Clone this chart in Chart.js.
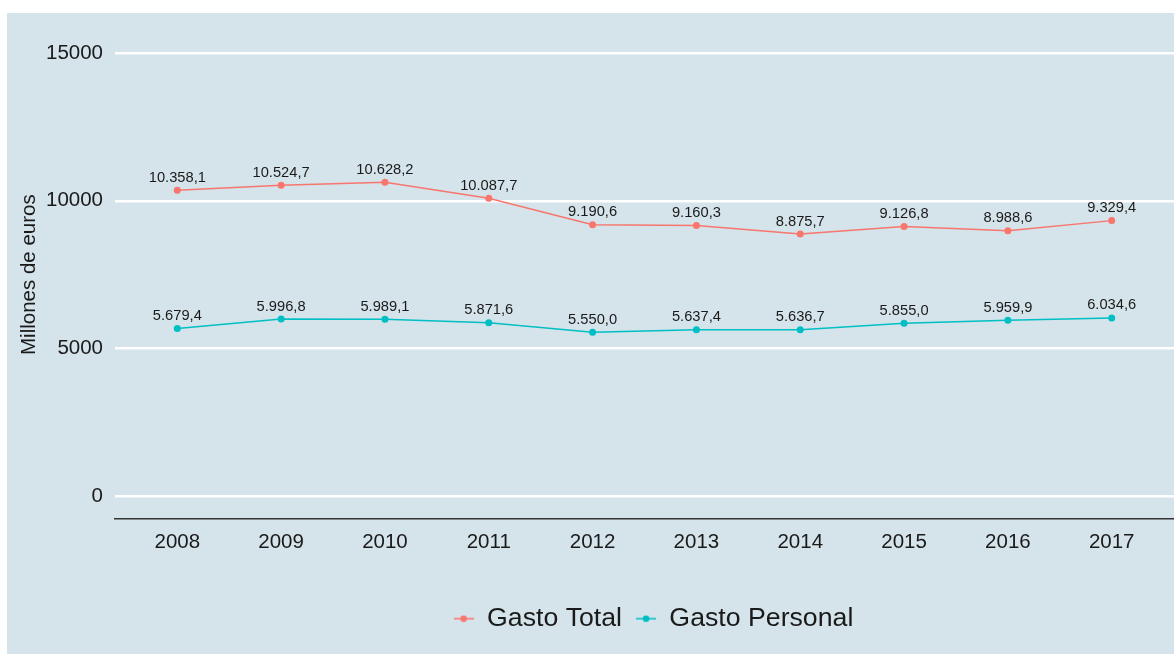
<!DOCTYPE html>
<html>
<head>
<meta charset="utf-8">
<script src="https://cdn.jsdelivr.net/npm/chart.js@4"></script>
<style>
  html, body { margin: 0; padding: 0; background: #ffffff; }
  #wrap { width: 1174px; height: 654px; position: relative; }
  canvas { display: block; }
</style>
</head>
<body>
<div id="wrap"><canvas id="c" width="1174" height="654"></canvas></div>
<script>
const years = [2008, 2009, 2010, 2011, 2012, 2013, 2014, 2015, 2016, 2017];
const gastoTotal = [10358.1, 10524.7, 10628.2, 10087.7, 9190.6, 9160.3, 8875.7, 9126.8, 8988.6, 9329.4];
const gastoPersonal = [5679.4, 5996.8, 5989.1, 5871.6, 5550.0, 5637.4, 5636.7, 5855.0, 5959.9, 6034.6];
const yTicks = [0, 5000, 10000, 15000];
const seriesNames = ['Gasto Total', 'Gasto Personal'];
const yTitle = 'Millones de euros';

const FONT = '"Liberation Sans", Arial, Helvetica, sans-serif';
const RED = '#F8766D';
const TEAL = '#00BFC4';
const PANEL = '#d5e3ea';

function fmtEs(v) {
  const parts = v.toFixed(1).split('.');
  const intPart = parts[0].replace(/\B(?=(\d{3})+(?!\d))/g, '.');
  return intPart + ',' + parts[1];
}

function legendMarker(color) {
  const c = document.createElement('canvas');
  c.width = 20; c.height = 8;
  const g = c.getContext('2d');
  g.strokeStyle = color; g.lineWidth = 1.5;
  g.beginPath(); g.moveTo(0, 4); g.lineTo(20, 4); g.stroke();
  g.fillStyle = color;
  g.beginPath(); g.arc(10, 4, 3.3, 0, Math.PI * 2); g.fill();
  return c;
}

const panelBg = {
  id: 'panelBg',
  beforeDraw(chart) {
    const ctx = chart.ctx;
    ctx.save();
    ctx.fillStyle = '#ffffff';
    ctx.fillRect(0, 0, chart.width, chart.height);
    ctx.fillStyle = PANEL;
    ctx.fillRect(7, 13, chart.width - 7, chart.height - 13);
    ctx.restore();
  }
};

const dataLabels = {
  id: 'dataLabels',
  afterDatasetsDraw(chart) {
    const ctx = chart.ctx;
    ctx.save();
    ctx.font = '14.7px ' + FONT;
    ctx.fillStyle = '#1a1a1a';
    ctx.textAlign = 'center';
    ctx.textBaseline = 'middle';
    chart.data.datasets.forEach((ds, i) => {
      const meta = chart.getDatasetMeta(i);
      meta.data.forEach((el, j) => {
        ctx.fillText(fmtEs(ds.data[j].y), el.x, el.y - 12.5);
      });
    });
    ctx.restore();
  }
};

const legendShift = {
  id: 'legendShift',
  afterLayout(chart) {
    const lg = chart.legend;
    if (lg) { lg.left = 133; lg.right = 1174; }
  }
};

const toPoints = arr => years.map((yr, i) => ({ x: yr, y: arr[i] }));

new Chart(document.getElementById('c'), {
  type: 'line',
  data: {
    datasets: [
      {
        label: seriesNames[0],
        data: toPoints(gastoTotal),
        borderColor: RED, backgroundColor: RED,
        borderWidth: 1.5, pointRadius: 3.5, pointBorderWidth: 0,
        pointBackgroundColor: RED, tension: 0
      },
      {
        label: seriesNames[1],
        data: toPoints(gastoPersonal),
        borderColor: TEAL, backgroundColor: TEAL,
        borderWidth: 1.5, pointRadius: 3.5, pointBorderWidth: 0,
        pointBackgroundColor: TEAL, tension: 0
      }
    ]
  },
  options: {
    responsive: false,
    animation: false,
    devicePixelRatio: 1,
    layout: { autoPadding: false, padding: { top: 31, right: 0, bottom: 12, left: 0 } },
    scales: {
      x: {
        type: 'linear',
        min: years[0] - 0.6,
        max: years[years.length - 1] + 0.6,
        afterBuildTicks(scale) { scale.ticks = years.map(v => ({ value: v })); },
        afterFit(scale) { scale.height = 73; },
        grid: { display: false, drawTicks: false },
        border: { display: true, color: '#333333', width: 1.5 },
        ticks: {
          padding: 12,
          color: '#1a1a1a',
          font: { family: FONT, size: 20.5 },
          callback: v => String(v),
          maxRotation: 0, autoSkip: false
        }
      },
      y: {
        min: -750,
        max: 15750,
        afterBuildTicks(scale) { scale.ticks = yTicks.map(v => ({ value: v })); },
        afterFit(scale) { scale.width = 115; },
        grid: { color: '#ffffff', lineWidth: 2.5, drawTicks: false },
        border: { display: false },
        ticks: {
          padding: 12,
          color: '#1a1a1a',
          font: { family: FONT, size: 20.5 },
          callback: v => String(v)
        },
        title: {
          display: true,
          text: yTitle,
          color: '#1a1a1a',
          font: { family: FONT, size: 20.5 },
          padding: { top: 17.5, bottom: 0 }
        }
      }
    },
    plugins: {
      tooltip: { enabled: false },
      legend: {
        position: 'bottom',
        labels: {
          usePointStyle: true,
          pointStyleWidth: 20,
          padding: 14,
          color: '#1a1a1a',
          font: { family: FONT, size: 26.7 },
          generateLabels(chart) {
            return chart.data.datasets.map((ds, i) => ({
              text: ds.label,
              fillStyle: ds.borderColor,
              strokeStyle: ds.borderColor,
              lineWidth: 0,
              pointStyle: legendMarker(ds.borderColor),
              hidden: false,
              datasetIndex: i,
              fontColor: '#1a1a1a'
            }));
          }
        }
      }
    }
  },
  plugins: [panelBg, dataLabels, legendShift]
});
</script>
</body>
</html>
